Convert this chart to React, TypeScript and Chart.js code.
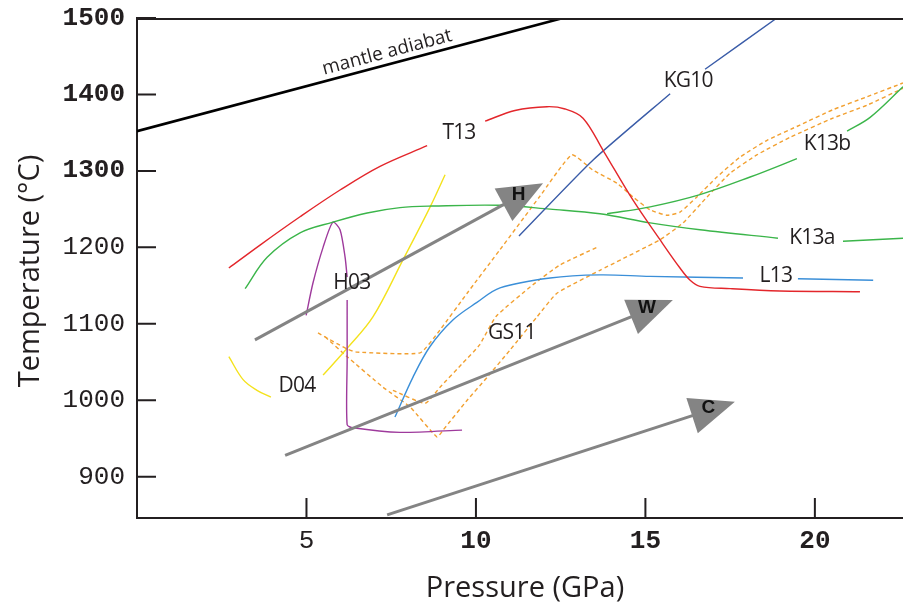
import React, { useEffect, useRef } from 'react';
import { Chart, registerables } from 'chart.js';

Chart.register(...registerables);

type P = [number, number] | null;

// ---- axes ----
const X_MIN = 0;
const X_MAX = 22.6;
const Y_MIN = 846;
const Y_MAX = 1500;
const xTickValues = [5, 10, 15, 20];
const yTickValues = [900, 1000, 1100, 1200, 1300, 1400, 1500];
const boldTickValues = [1300, 1400, 1500, 10, 15, 20];
const xTitle = 'Pressure (GPa)';
const yTitle = 'Temperature (°C)';

// ---- curves (pressure GPa, temperature °C); null = gap for label ----
const mantleAdiabat: P[] = [[0, 1352], [12.57, 1500]];
const t13: P[] = [
  [2.71, 1173], [3.63, 1203], [4.81, 1240], [5.99, 1275], [7.17, 1306], [8.56, 1333], null,
  [10.27, 1365], [11.15, 1379], [12.1, 1384], [12.63, 1381], [13.16, 1369], [13.75, 1327],
  [14.63, 1262], [15.43, 1210], [16.02, 1173], [16.32, 1157], [16.61, 1149], [17.5, 1146],
  [18.97, 1143], [21.33, 1142],
];
const kg10: P[] = [[11.27, 1215], [13.45, 1314], [15.73, 1401], null, [16.76, 1433], [18.88, 1500]];
const k13a: P[] = [
  [3.19, 1146], [3.84, 1187], [4.81, 1219], [5.78, 1233], [6.79, 1245], [7.76, 1252], [8.73, 1254],
  [10.71, 1255], [12.19, 1250], [13.66, 1244], [15.14, 1232], [16.61, 1223], [18.91, 1212], null,
  [20.83, 1208], [22.6, 1212],
];
const k13b: P[] = [
  [13.87, 1244], [15.14, 1253], [16.61, 1269], [18.09, 1292], [19.47, 1316], null,
  [20.95, 1352], [21.63, 1370], [22.6, 1410],
];
const l13: P[] = [
  [7.61, 978], [8.14, 1030], [8.64, 1070], [9.32, 1105], [10.03, 1128], [10.71, 1147], [12.19, 1160],
  [13.66, 1164], [15.14, 1162], [17.88, 1160], null, [19.5, 1159], [21.72, 1157],
];
const h03: P[] = [
  [4.99, 1111], [5.19, 1153], [5.49, 1200], [5.78, 1233], [5.99, 1223], [6.14, 1187], [6.2, 1161], null,
  [6.2, 1131], [6.2, 1053], [6.2, 968], [6.37, 964], [7.76, 958], [9.59, 961],
];
const d04: P[] = [
  [2.71, 1057], [3.13, 1027], [3.54, 1013], [3.95, 1004], null,
  [5.49, 1033], [6.2, 1068], [6.96, 1109], [7.85, 1184], [8.65, 1253], [9.09, 1295],
];
const gs11Upper: P[] = [
  [5.34, 1088], [6.2, 1067], [6.49, 1063], [8.35, 1062], [8.94, 1092], [9.74, 1140], [10.71, 1197],
  [11.89, 1267], [12.83, 1321], [13.45, 1301], [14.16, 1284], [14.63, 1266], [15.14, 1249],
  [15.64, 1242], [16.02, 1246], [16.52, 1266], [17.11, 1292], [17.79, 1318], [18.59, 1340],
  [19.56, 1360], [20.53, 1380], [21.54, 1397], [22.6, 1415],
];
const gs11Lower: P[] = [
  [5.55, 1083], [6.2, 1057], [7.26, 1017], [8.06, 991], [8.85, 952], [9.03, 961], [9.74, 1000],
  [10.33, 1030], [11.01, 1066], [11.8, 1109], [12.39, 1140], [13.66, 1170], [15.43, 1210],
  [16.11, 1232], [16.82, 1266], [17.5, 1297], [18.29, 1321], [19.27, 1344], [20.53, 1369],
  [21.54, 1386], [22.6, 1408],
];
const gs11Middle: P[] = [
  [7.55, 1013], [8.5, 996], [8.94, 1017], [9.62, 1049], [10.1, 1072], [10.6, 1110], [11.68, 1151],
  [12.48, 1177], [13.57, 1200],
];

// ---- arrows (trend directions) ----
const arrowNames = ['H', 'W', 'C'];
const arrowFrom: [number, number][] = [[3.48, 1079], [4.37, 928], [7.38, 850]];
const arrowTo: [number, number][] = [[11.98, 1284], [15.81, 1131], [17.64, 998]];

// ---- curve labels ----
const curveLabels = ['T13', 'KG10', 'K13b', 'K13a', 'L13', 'H03', 'D04', 'GS11'];
const curveLabelAt: [number, number][] = [
  [9.5, 1350], [16.26, 1418], [20.36, 1335], [19.91, 1212], [18.85, 1162], [6.34, 1153], [4.72, 1019], [11.06, 1088],
];
const adiabatLabel = 'mantle adiabat';
const adiabatLabelAt: [number, number] = [7.38, 1455];

const AXIS = '#231f20';

const toData = (pts: P[]) => {
  const out: { x: number; y: number | null }[] = [];
  let lastX = 0;
  for (const p of pts) {
    if (p) {
      out.push({ x: p[0], y: p[1] });
      lastX = p[0];
    } else out.push({ x: lastX, y: null });
  }
  return out;
};

const line = (label: string, pts: P[], color: string, extra: any = {}) => ({
  label,
  data: toData(pts),
  borderColor: color,
  backgroundColor: color,
  borderWidth: 1.4,
  pointRadius: 0,
  pointHoverRadius: 0,
  showLine: true,
  tension: 0.35,
  spanGaps: false,
  fill: false,
  ...extra,
});

const overlayPlugin = {
  id: 'overlay',
  afterDraw(chart: any) {
    const { ctx, chartArea: a, scales } = chart;
    const X = (v: number) => scales.x.getPixelForValue(v);
    const Y = (v: number) => scales.y.getPixelForValue(v);
    ctx.save();

    // top frame line
    ctx.strokeStyle = AXIS;
    ctx.lineWidth = 2;
    ctx.beginPath();
    ctx.moveTo(a.left - 1, a.top + 1);
    ctx.lineTo(a.right, a.top + 1);
    ctx.stroke();

    // inward tick marks
    ctx.beginPath();
    yTickValues.forEach((v) => {
      const yy = Y(v);
      ctx.moveTo(a.left, yy);
      ctx.lineTo(a.left + 19, yy);
    });
    xTickValues.forEach((v) => {
      const xx = X(v);
      ctx.moveTo(xx, a.bottom);
      ctx.lineTo(xx, a.bottom - 20);
    });
    ctx.stroke();

    // arrows
    arrowNames.forEach((name, i) => {
      const x0 = X(arrowFrom[i][0]);
      const y0 = Y(arrowFrom[i][1]);
      const x1 = X(arrowTo[i][0]);
      const y1 = Y(arrowTo[i][1]);
      const len = Math.hypot(x1 - x0, y1 - y0);
      const ux = (x1 - x0) / len;
      const uy = (y1 - y0) / len;
      const headLen = 45;
      const halfW = 18.5;
      const bx = x1 - ux * headLen;
      const by = y1 - uy * headLen;
      ctx.strokeStyle = '#848484';
      ctx.lineWidth = 3;
      ctx.beginPath();
      ctx.moveTo(x0, y0);
      ctx.lineTo(bx + ux * 2, by + uy * 2);
      ctx.stroke();
      ctx.fillStyle = '#848484';
      ctx.beginPath();
      ctx.moveTo(x1, y1);
      ctx.lineTo(bx - uy * halfW, by + ux * halfW);
      ctx.lineTo(bx + uy * halfW, by - ux * halfW);
      ctx.closePath();
      ctx.fill();
      const cx = (x1 + 2 * bx) / 3;
      const cy = (y1 + 2 * by) / 3;
      ctx.fillStyle = '#111';
      ctx.font = 'bold 19px "Liberation Sans", Arial, sans-serif';
      ctx.textAlign = 'center';
      ctx.textBaseline = 'middle';
      ctx.fillText(name, cx + 2, cy - 3);
    });

    // curve labels
    ctx.fillStyle = AXIS;
    ctx.font = '21px "Open Sans"';
    (ctx as any).letterSpacing = '-0.8px';
    ctx.textAlign = 'center';
    ctx.textBaseline = 'middle';
    curveLabels.forEach((t, i) => {
      ctx.fillText(t, X(curveLabelAt[i][0]), Y(curveLabelAt[i][1]));
    });

    // mantle adiabat label, rotated along the line
    const ang = Math.atan2(
      Y(mantleAdiabat[1]![1]) - Y(mantleAdiabat[0]![1]),
      X(mantleAdiabat[1]![0]) - X(mantleAdiabat[0]![0])
    );
    ctx.save();
    ctx.translate(X(adiabatLabelAt[0]), Y(adiabatLabelAt[1]));
    ctx.rotate(ang);
    ctx.font = '19px "Open Sans"';
    (ctx as any).letterSpacing = '0px';
    ctx.fillText(adiabatLabel, 0, 0);
    ctx.restore();

    // axis titles
    (ctx as any).letterSpacing = '0px';
    ctx.fillStyle = AXIS;
    ctx.font = '29px "Open Sans"';
    ctx.textAlign = 'center';
    ctx.textBaseline = 'middle';
    ctx.fillText(xTitle, (a.left + a.right) / 2 + 5, 589);
    ctx.save();
    ctx.translate(31, (a.top + a.bottom) / 2 + 3);
    ctx.rotate(-Math.PI / 2);
    ctx.fillText(yTitle, 0, 0);
    ctx.restore();

    ctx.restore();
  },
};

const tickFont = (c: any) => ({
  family: '"Liberation Mono", "DejaVu Sans Mono", monospace',
  size: 26,
  weight: c && c.tick && boldTickValues.includes(c.tick.value) ? 'bold' : 'normal',
});

const zeroPad = (s: any) => {
  s.paddingTop = 0;
  s.paddingBottom = 0;
  s.paddingLeft = 0;
  s.paddingRight = 0;
};

export default function App() {
  const ref = useRef<HTMLCanvasElement>(null);
  useEffect(() => {
    const chart = new Chart(ref.current as HTMLCanvasElement, {
      type: 'scatter',
      data: {
        datasets: [
          line('mantle adiabat', mantleAdiabat, '#000000', { borderWidth: 2.6, tension: 0 }),
          line('T13', t13, '#e3262b'),
          line('KG10', kg10, '#3a5ca8', { tension: 0.2 }),
          line('K13a', k13a, '#3bb54a'),
          line('K13b', k13b, '#3bb54a'),
          line('L13', l13, '#3b8fd8'),
          line('H03', h03, '#9e3a9c', { tension: 0.25 }),
          line('D04', d04, '#f4e21c'),
          line('GS11 a', gs11Upper, '#f2a030', { borderDash: [4, 3], tension: 0.15 }),
          line('GS11 b', gs11Lower, '#f2a030', { borderDash: [4, 3], tension: 0.15 }),
          line('GS11 c', gs11Middle, '#f2a030', { borderDash: [4, 3], tension: 0.15 }),
        ],
      },
      options: {
        animation: false,
        responsive: true,
        maintainAspectRatio: false,
        events: [],
        layout: { padding: { top: 18, right: 0, bottom: 0, left: 0 } },
        plugins: { legend: { display: false }, tooltip: { enabled: false } },
        scales: {
          x: {
            type: 'linear',
            min: X_MIN,
            max: X_MAX,
            afterBuildTicks: (s: any) => {
              s.ticks = xTickValues.map((v) => ({ value: v }));
            },
            afterFit: (s: any) => {
              s.height = 88;
              zeroPad(s);
            },
            grid: { display: false },
            border: { display: true, color: AXIS, width: 2 },
            ticks: {
              padding: 0,
              color: AXIS,
              font: tickFont as any,
              maxRotation: 0,
              autoSkip: false,
              callback: (v: any) => String(v),
            },
          },
          y: {
            type: 'linear',
            min: Y_MIN,
            max: Y_MAX,
            afterBuildTicks: (s: any) => {
              s.ticks = yTickValues.map((v) => ({ value: v }));
            },
            afterFit: (s: any) => {
              s.width = 137;
              zeroPad(s);
            },
            grid: { display: false },
            border: { display: true, color: AXIS, width: 2 },
            ticks: {
              padding: 4,
              color: AXIS,
              font: tickFont as any,
              autoSkip: false,
              callback: (v: any) => String(v),
            },
          },
        },
      },
      plugins: [overlayPlugin],
    } as any);
    return () => chart.destroy();
  }, []);
  return (
    <div style={{ position: 'fixed', left: 0, top: 0, width: 903, height: 606, background: '#fff' }}>
      <canvas ref={ref} />
    </div>
  );
}
